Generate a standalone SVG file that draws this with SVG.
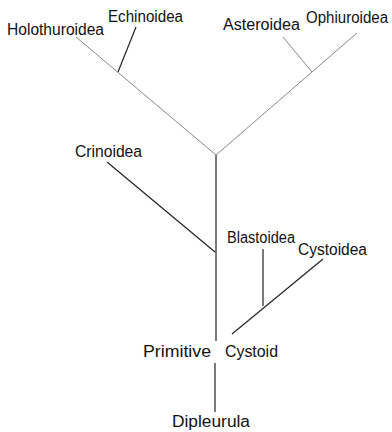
<svg xmlns="http://www.w3.org/2000/svg" width="392" height="432" viewBox="0 0 392 432">
<style>
.l{stroke:#222;stroke-width:1.2;fill:none}
.f{stroke:#888;stroke-width:1;fill:none}
text{font-family:"Liberation Sans",Arial,sans-serif;font-size:16px;fill:#111}
</style>
<rect width="392" height="432" fill="#fff"/>
<g id="connectors">
<line class="l" x1="216" y1="155" x2="216" y2="341"/>
<line class="l" x1="215" y1="363" x2="215" y2="412"/>
<line class="f" x1="216" y1="155" x2="76" y2="37"/>
<line class="l" x1="118" y1="72" x2="136" y2="27"/>
<line class="f" x1="216" y1="155" x2="357" y2="33"/>
<line class="f" x1="312" y1="72" x2="283" y2="37"/>
<line class="l" x1="107" y1="162" x2="215" y2="252"/>
<line class="l" x1="232" y1="334" x2="323" y2="259"/>
<line class="l" x1="263" y1="249" x2="263" y2="306"/>
</g>
<g id="holothuroidea"><text x="7" y="35" textLength="97" lengthAdjust="spacingAndGlyphs">Holothuroidea</text></g>
<g id="echinoidea"><text x="108" y="22" textLength="75" lengthAdjust="spacingAndGlyphs">Echinoidea</text></g>
<g id="asteroidea"><text x="223" y="30" textLength="77" lengthAdjust="spacingAndGlyphs">Asteroidea</text></g>
<g id="ophiuroidea"><text x="306" y="23" textLength="82" lengthAdjust="spacingAndGlyphs">Ophiuroidea</text></g>
<g id="crinoidea"><text x="75" y="157" textLength="67" lengthAdjust="spacingAndGlyphs">Crinoidea</text></g>
<g id="blastoidea"><text x="227" y="243" textLength="68" lengthAdjust="spacingAndGlyphs">Blastoidea</text></g>
<g id="cystoidea"><text x="298" y="255" textLength="69" lengthAdjust="spacingAndGlyphs">Cystoidea</text></g>
<g id="primitive-cystoid"><text x="143" y="357" textLength="68" lengthAdjust="spacingAndGlyphs">Primitive</text><text x="225" y="357" textLength="53" lengthAdjust="spacingAndGlyphs">Cystoid</text></g>
<g id="dipleurula"><text x="172" y="427" textLength="78" lengthAdjust="spacingAndGlyphs">Dipleurula</text></g>
</svg>
